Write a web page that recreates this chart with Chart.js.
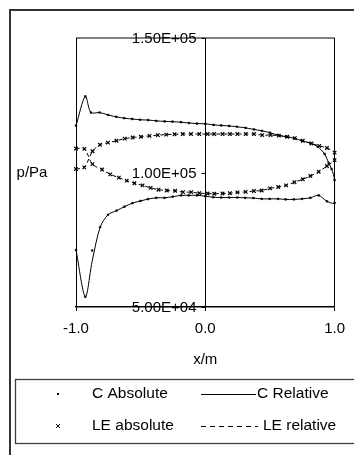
<!DOCTYPE html>
<html>
<head>
<meta charset="utf-8">
<script src="https://cdn.jsdelivr.net/npm/chart.js@4.4.1/dist/chart.umd.min.js"></script>
<style>
  html, body { margin: 0; padding: 0; background: #fff; }
  #wrap { position: relative; width: 354px; height: 455px; }
</style>
</head>
<body>
<div id="wrap"><canvas id="chart" width="354" height="455"></canvas></div>
<script>
// Values (x in m, p in Pa), each series is a closed loop
const cX = [
    -1.000, -0.928, -0.885, -0.818, -0.752, -0.688, -0.627, -0.565, -0.504, -0.442,
    -0.379, -0.315, -0.254, -0.188, -0.127, -0.064, 0.000, 0.064, 0.123, 0.185,
    0.246, 0.312, 0.377, 0.438, 0.500, 0.562, 0.625, 0.690, 0.752, 0.813,
    0.869, 0.923, 0.954, 0.977, 1.000,
    1.000, 0.941, 0.877, 0.813, 0.748, 0.685, 0.621, 0.562, 0.498, 0.436,
    0.372, 0.308, 0.248, 0.185, 0.123, 0.062, 0.000, -0.064, -0.128, -0.187,
    -0.252, -0.315, -0.379, -0.444, -0.502, -0.564, -0.625, -0.687, -0.752, -0.813,
    -0.875, -0.928, -1.000
];
const cAbsolute = [
    117400, 128300, 122300, 122300, 121400, 120700, 120200, 119900, 119600, 119500,
    119200, 119000, 118900, 118700, 118400, 118200, 118100, 117700, 117500, 117300,
    117000, 116600, 116000, 115500, 114800, 113900, 113300, 112700, 111700, 110900,
    109600, 106900, 103600, 101300, 97200,
    88700, 89300, 91500, 90600, 90200, 90000, 90000, 90200, 90200, 90200,
    90500, 90600, 90700, 90700, 90700, 90800, 91200, 91500, 91500, 91500,
    91000, 90600, 90600, 90100, 89400, 88600, 87300, 85800, 84300, 79700,
    71000, 53800, 71200
];
const cRelative = [
    117400, 128300, 122300, 122300, 121400, 120700, 120200, 119900, 119600, 119500,
    119200, 119000, 118900, 118700, 118400, 118200, 118100, 117700, 117500, 117300,
    117000, 116600, 116000, 115500, 114800, 113900, 113300, 112700, 111700, 110900,
    109600, 106900, 103600, 101300, 97200,
    88700, 89300, 91500, 90600, 90200, 90000, 90000, 90200, 90200, 90200,
    90500, 90600, 90700, 90700, 90700, 90800, 91200, 91500, 91500, 91500,
    91000, 90600, 90600, 90100, 89400, 88600, 87300, 85800, 84300, 79700,
    67000, 53800, 71200
];
const leX = [
    -1.000, -0.936, -0.872, -0.815, -0.752, -0.687, -0.623, -0.562, -0.498, -0.431,
    -0.367, -0.302, -0.238, -0.175, -0.110, -0.046, 0.018, 0.069, 0.133, 0.190,
    0.248, 0.313, 0.377, 0.441, 0.505, 0.569, 0.633, 0.692, 0.754, 0.821,
    0.882, 0.941, 1.000,
    1.000, 0.941, 0.877, 0.813, 0.754, 0.690, 0.625, 0.564, 0.500, 0.436,
    0.377, 0.313, 0.248, 0.190, 0.133, 0.069, 0.018, -0.046, -0.108, -0.172,
    -0.233, -0.298, -0.362, -0.423, -0.485, -0.548, -0.608, -0.669, -0.735, -0.798,
    -0.873, -0.935, -1.000
];
const leAbsolute = [
    101300, 101900, 107900, 110300, 111100, 111800, 112600, 113000, 113300, 113600,
    113900, 114100, 114200, 114300, 114300, 114300, 114300, 114300, 114300, 114300,
    114300, 114300, 114300, 113900, 113900, 113700, 113300, 112800, 111800, 110800,
    109900, 109100, 107400,
    104600, 102400, 100300, 98700, 97500, 96400, 95200, 94600, 94100, 93300,
    93100, 92800, 92600, 92300, 92200, 92100, 92200, 92300, 92700, 92700,
    93200, 93300, 93600, 94300, 95200, 96000, 97000, 98100, 99300, 101100,
    103100, 108800, 108900
];
const leRelative = leAbsolute.slice();

const xTicks = [-1, 0, 1];
const yTicks = [50000, 100000, 150000];
const yTickLabels = ['5.00E+04', '1.00E+05', '1.50E+05'];
const seriesNames = ['C Absolute', 'C Relative', 'LE absolute', 'LE relative'];

const FONT = '"Liberation Sans", Arial, sans-serif';

function toPoints(xs, ys) {
    return xs.map((x, i) => ({ x: x, y: ys[i] }));
}

// Frame, y axis through x = 0, axis title and the boxed legend
const decorations = {
    id: 'decorations',
    beforeDraw(chart) {
        const ctx = chart.ctx;
        const area = chart.chartArea;
        ctx.save();
        ctx.fillStyle = '#fff';
        ctx.fillRect(0, 0, chart.width, chart.height);
        // outer frame
        ctx.strokeStyle = '#333';
        ctx.lineWidth = 2;
        ctx.strokeRect(10, 10, 400, 500);
        // plot area border (top edge shows grey)
        ctx.strokeStyle = '#808080';
        ctx.lineWidth = 2;
        ctx.beginPath();
        ctx.moveTo(area.left, area.top);
        ctx.lineTo(area.right, area.top);
        ctx.stroke();
        ctx.restore();
    },
    afterDraw(chart) {
        const ctx = chart.ctx;
        const xs = chart.scales.x;
        const ys = chart.scales.y;
        const x0 = Math.round(xs.getPixelForValue(0)) + 0.5;
        ctx.save();
        ctx.font = '15px ' + FONT;
        ctx.fillStyle = '#000';
        ctx.strokeStyle = '#000';
        ctx.lineWidth = 1;
        ctx.textBaseline = 'middle';
        // y ticks and labels on the axis at x = 0
        ctx.textAlign = 'right';
        yTicks.forEach((v, i) => {
            const py = Math.round(ys.getPixelForValue(v)) + 0.5;
            ctx.beginPath();
            ctx.moveTo(x0 - 4, py);
            ctx.lineTo(x0, py);
            ctx.stroke();
            ctx.fillText(yTickLabels[i], x0 - 9, py);
        });
        // y title
        ctx.textAlign = 'center';
        ctx.fillText('p/Pa', 32, ys.getPixelForValue(100000));

        // legend
        ctx.font = '15.5px ' + FONT;
        ctx.strokeStyle = '#404040';
        ctx.lineWidth = 1.3;
        ctx.strokeRect(15.5, 379.5, 400, 64);
        ctx.textAlign = 'left';
        ctx.fillStyle = '#000';
        ctx.strokeStyle = '#000';
        ctx.lineWidth = 1;
        const row1 = 394, row2 = 426;
        ctx.fillRect(57, row1 - 1, 2, 2);
        ctx.fillText(seriesNames[0], 92, row1);
        ctx.beginPath();
        ctx.moveTo(201, row1 + 0.5);
        ctx.lineTo(256, row1 + 0.5);
        ctx.stroke();
        ctx.fillText(seriesNames[1], 257, row1);
        ctx.beginPath();
        ctx.moveTo(56, row2 - 2); ctx.lineTo(60, row2 + 2);
        ctx.moveTo(60, row2 - 2); ctx.lineTo(56, row2 + 2);
        ctx.stroke();
        ctx.fillText(seriesNames[2], 92, row2);
        ctx.setLineDash([5, 4]);
        ctx.beginPath();
        ctx.moveTo(201, row2 + 0.5);
        ctx.lineTo(258, row2 + 0.5);
        ctx.stroke();
        ctx.setLineDash([]);
        ctx.fillText(seriesNames[3], 263, row2);
        ctx.restore();
    }
};

const chart = new Chart(document.getElementById('chart'), {
    type: 'scatter',
    data: {
        datasets: [
            {
                label: seriesNames[0],
                data: toPoints(cX, cAbsolute),
                showLine: false,
                pointStyle: 'rect',
                pointRadius: 1.2,
                backgroundColor: '#000',
                borderColor: '#000',
                borderWidth: 0.5,
                clip: 8
            },
            {
                label: seriesNames[1],
                data: toPoints(cX, cRelative),
                showLine: true,
                pointRadius: 0,
                borderColor: '#000',
                borderWidth: 1,
                tension: 0.3,
                clip: 8
            },
            {
                label: seriesNames[2],
                data: toPoints(leX, leAbsolute),
                showLine: false,
                pointStyle: 'crossRot',
                pointRadius: 2.5,
                borderColor: '#000',
                borderWidth: 1.2,
                clip: 8
            },
            {
                label: seriesNames[3],
                data: toPoints(leX, leRelative),
                showLine: true,
                pointRadius: 0,
                borderColor: '#000',
                borderWidth: 1,
                borderDash: [4, 3],
                tension: 0.3,
                clip: 8
            }
        ]
    },
    options: {
        responsive: false,
        animation: false,
        events: [],
        layout: {
            padding: { left: 76, right: 18, top: 38, bottom: 86 }
        },
        plugins: {
            legend: { display: false },
            tooltip: { enabled: false }
        },
        scales: {
            x: {
                type: 'linear',
                min: -1,
                max: 1,
                afterBuildTicks: axis => {
                    axis.ticks = xTicks.map(v => ({ value: v }));
                },
                ticks: {
                    color: '#000',
                    padding: 9,
                    font: { family: FONT, size: 15 },
                    maxRotation: 0,
                    callback: v => Number(v).toFixed(1)
                },
                grid: {
                    color: '#000',
                    lineWidth: 1,
                    tickLength: 4
                },
                border: { color: '#000', width: 1.5 },
                title: {
                    display: true,
                    text: 'x/m',
                    color: '#000',
                    font: { family: FONT, size: 15 },
                    padding: { top: 4, bottom: 0 }
                }
            },
            y: {
                type: 'linear',
                display: false,
                min: 50000,
                max: 150000
            }
        }
    },
    plugins: [decorations]
});
</script>
</body>
</html>
